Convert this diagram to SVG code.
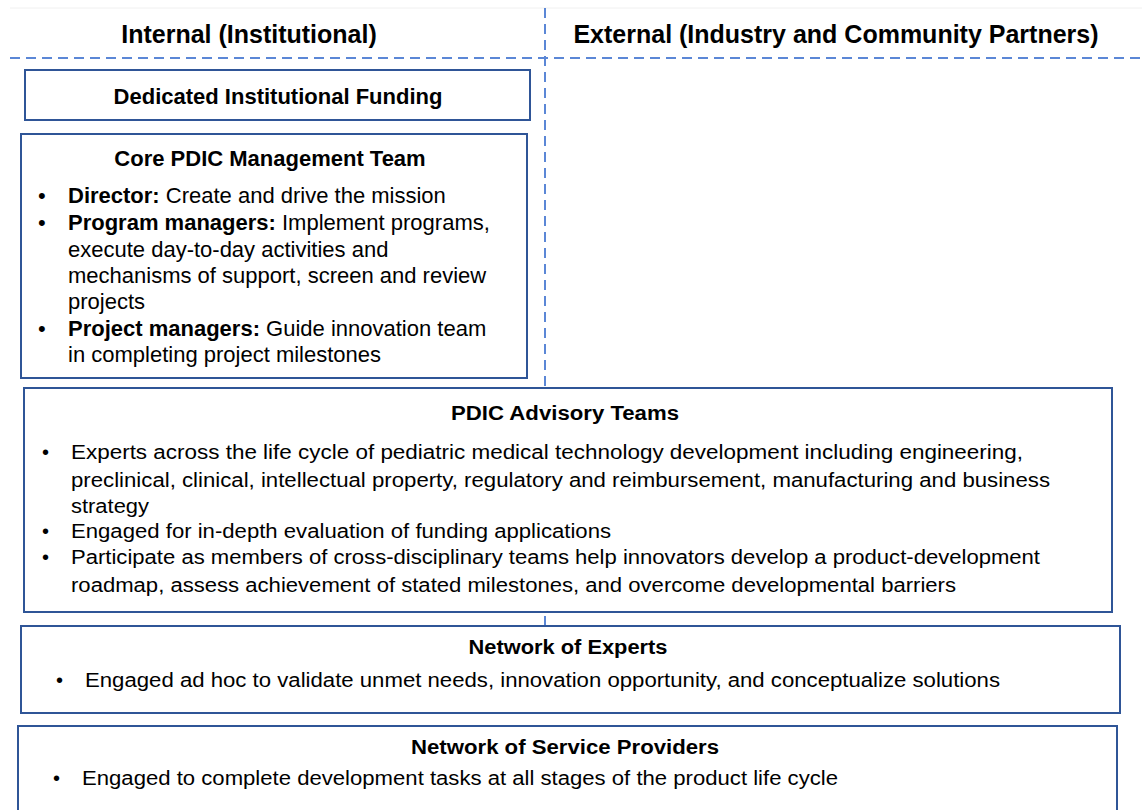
<svg xmlns="http://www.w3.org/2000/svg" width="1142" height="810" viewBox="0 0 1142 810">
<style>
text{font-family:"Liberation Sans",Arial,sans-serif;fill:#000}
.h{font-size:25px;font-weight:bold}
.t{font-size:20px;font-weight:bold;text-anchor:middle}
.t2{font-size:22px;font-weight:bold;text-anchor:middle}
.b{font-size:20px}
.c{font-size:22px}
.box{fill:#fff;stroke:#2F5597;stroke-width:2}
.dash{stroke:#5B87D6;stroke-width:2;stroke-dasharray:10 6;fill:none}
</style>
<rect width="1142" height="810" fill="#fff"/>
<line x1="10" y1="8" x2="1142" y2="8" stroke="#f0f0f0" stroke-width="1"/>
<g id="connectors">
<line class="dash" x1="10" y1="58" x2="1142" y2="58"/>
<line class="dash" x1="545" y1="8" x2="545" y2="628"/>
</g>
<g id="headers">
<text class="h" x="249" y="43" text-anchor="middle">Internal (Institutional)</text>
<text class="h" x="836" y="43" text-anchor="middle">External (Industry and Community Partners)</text>
</g>
<g id="funding">
<rect class="box" x="25" y="70" width="505" height="50"/>
<text class="t2" x="278" y="104">Dedicated Institutional Funding</text>
</g>
<g id="core">
<rect class="box" x="21" y="134" width="506" height="244"/>
<text class="t2" x="270" y="166">Core PDIC Management Team</text>
<text class="c" x="38" y="203">•</text>
<text class="c" x="68" y="203"><tspan font-weight="bold">Director:</tspan> Create and drive the mission</text>
<text class="c" x="38" y="230">•</text>
<text class="c" x="68" y="230"><tspan font-weight="bold">Program managers:</tspan> Implement programs,</text>
<text class="c" x="68" y="257">execute day-to-day activities and</text>
<text class="c" x="68" y="283">mechanisms of support, screen and review</text>
<text class="c" x="68" y="309">projects</text>
<text class="c" x="38" y="336">•</text>
<text class="c" x="68" y="336"><tspan font-weight="bold">Project managers:</tspan> Guide innovation team</text>
<text class="c" x="68" y="362">in completing project milestones</text>
</g>
<g id="advisory">
<rect class="box" x="24" y="388" width="1088" height="224"/>
<text class="t" x="565" y="420" textLength="228" lengthAdjust="spacingAndGlyphs">PDIC Advisory Teams</text>
<text class="b" x="42" y="459">•</text>
<text class="b" x="71" y="459" textLength="952" lengthAdjust="spacingAndGlyphs">Experts across the life cycle of pediatric medical technology development including engineering,</text>
<text class="b" x="71" y="487" textLength="979" lengthAdjust="spacingAndGlyphs">preclinical, clinical, intellectual property, regulatory and reimbursement, manufacturing and business</text>
<text class="b" x="71" y="513" textLength="78" lengthAdjust="spacingAndGlyphs">strategy</text>
<text class="b" x="42" y="538">•</text>
<text class="b" x="71" y="538" textLength="540" lengthAdjust="spacingAndGlyphs">Engaged for in-depth evaluation of funding applications</text>
<text class="b" x="42" y="564">•</text>
<text class="b" x="71" y="564" textLength="969" lengthAdjust="spacingAndGlyphs">Participate as members of cross-disciplinary teams help innovators develop a product-development</text>
<text class="b" x="71" y="592" textLength="885" lengthAdjust="spacingAndGlyphs">roadmap, assess achievement of stated milestones, and overcome developmental barriers</text>
</g>
<g id="experts">
<rect class="box" x="21" y="626" width="1099" height="87"/>
<text class="t" x="568" y="654" textLength="199" lengthAdjust="spacingAndGlyphs">Network of Experts</text>
<text class="b" x="56" y="687">•</text>
<text class="b" x="85" y="687" textLength="915" lengthAdjust="spacingAndGlyphs">Engaged ad hoc to validate unmet needs, innovation opportunity, and conceptualize solutions</text>
</g>
<g id="providers">
<rect class="box" x="18" y="726" width="1099" height="100"/>
<text class="t" x="565" y="754" textLength="308" lengthAdjust="spacingAndGlyphs">Network of Service Providers</text>
<text class="b" x="53" y="785">•</text>
<text class="b" x="82" y="785" textLength="756" lengthAdjust="spacingAndGlyphs">Engaged to complete development tasks at all stages of the product life cycle</text>
</g>
</svg>
